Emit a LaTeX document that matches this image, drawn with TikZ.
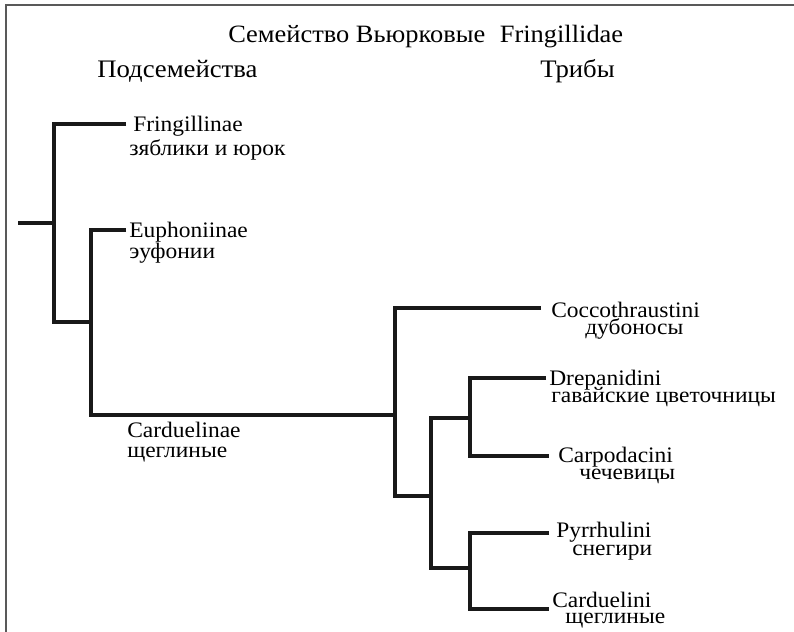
\documentclass[tikz,border=0pt]{standalone}
\usepackage{fontspec}
\setmainfont{Liberation Serif}[FakeStretch=1.06]
\begin{document}
\begin{tikzpicture}[x=0.75pt,y=-0.75pt,
  branch/.style={line width=2.6pt, draw=black!90, line join=miter},
  frameline/.style={line width=1.5pt, draw=black!65},
  lbl/.style={anchor=base west, inner sep=0pt, text=black, font=\fontsize{16.6}{18}\selectfont},
  head/.style={anchor=base west, inner sep=0pt, text=black, font=\fontsize{18.9}{21}\selectfont},
  ttl/.style={anchor=base west, inner sep=0pt, text=black, font=\fontsize{18.7}{21}\selectfont}]
\useasboundingbox (0,0) rectangle (794,632);
\fill[white] (0,0) rectangle (794,632);

% page frame (top and left edges)
\coordinate (fTL) at (6,5);
\coordinate (fTR) at (794,5);
\coordinate (fBL) at (6,632);
\draw[frameline] (fTR) -- (fTL) -- (fBL);

% headings
\node[ttl] (title) at (228,42) {Семейство Вьюрковые\hspace{0.32em} Fringillidae};
\node[head] (subfam) at (97,77) {Подсемейства};
\node[head] (tribes) at (540,77) {Трибы};

% tree junctions
\coordinate (root) at (18,223);
\coordinate (j1) at (54,223);
\coordinate (j1t) at (54,124);
\coordinate (j1b) at (54,322);
\coordinate (j2) at (91,322);
\coordinate (j2t) at (91,230);
\coordinate (j2b) at (91,415);
\coordinate (j3) at (395,415);
\coordinate (j3t) at (395,308);
\coordinate (j3b) at (395,496);
\coordinate (j4) at (431,496);
\coordinate (j4t) at (431,418);
\coordinate (j4b) at (431,568);
\coordinate (j5) at (470,418);
\coordinate (j5t) at (470,378);
\coordinate (j5b) at (470,456);
\coordinate (j6) at (470,568);
\coordinate (j6t) at (470,533);
\coordinate (j6b) at (470,609);

% leaf ends
\coordinate (eFri) at (126,124);
\coordinate (eEup) at (126,230);
\coordinate (eCoc) at (541,308);
\coordinate (eDre) at (546,378);
\coordinate (eCar) at (549,456);
\coordinate (ePyr) at (549,533);
\coordinate (eCdl) at (549,609);

% branches
\draw[branch] (root) -- (j1);
\draw[branch] (eFri) -- (j1t) -- (j1b) -- (j2);
\draw[branch] (eEup) -- (j2t) -- (j2b) -- (j3);
\draw[branch] (eCoc) -- (j3t) -- (j3b) -- (j4);
\draw[branch] (j5) -- (j4t) -- (j4b) -- (j6);
\draw[branch] (eDre) -- (j5t) -- (j5b) -- (eCar);
\draw[branch] (ePyr) -- (j6t) -- (j6b) -- (eCdl);

% subfamily labels
\node[lbl] (fri) at (133,131) {Fringillinae};
\node[lbl] (friru) at (129,155) {зяблики и юрок};
\node[lbl] (eup) at (129,237) {Euphoniinae};
\node[lbl] (eupru) at (129,258) {эуфонии};
\node[lbl] (cdn) at (127,437) {Carduelinae};
\node[lbl] (cdnru) at (127,457) {щеглиные};

% tribe labels
\node[lbl] (coc) at (551,317) {Coccothraustini};
\node[lbl] (cocru) at (585,334) {дубоносы};
\node[lbl] (dre) at (549,385) {Drepanidini};
\node[lbl] (dreru) at (551,402) {гавайские цветочницы};
\node[lbl] (car) at (558,462) {Carpodacini};
\node[lbl] (carru) at (579,479) {чечевицы};
\node[lbl] (pyr) at (556,537) {Pyrrhulini};
\node[lbl] (pyrru) at (572,555) {снегири};
\node[lbl] (cdl) at (552,607) {Carduelini};
\node[lbl] (cdlru) at (565,623) {щеглиные};
\end{tikzpicture}
\end{document}
